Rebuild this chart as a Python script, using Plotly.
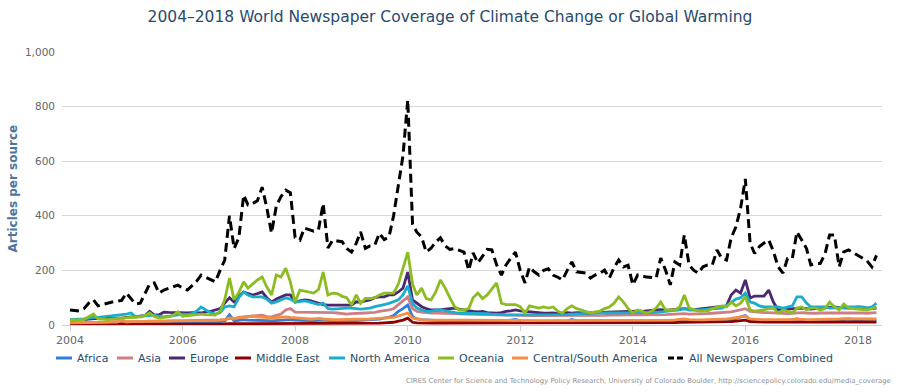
import pandas as pd
import plotly.graph_objects as go

# ---------------- data (monthly, Jan 2004 - May 2018) ----------------
months = pd.date_range("2004-01-01", periods=173, freq="MS")

all_newspapers = [
    55, 53, 51, 60, 80, 92, 70, 75, 80, 84, 87, 90,
    117, 95, 77, 80, 117, 150, 154, 117, 128, 135, 140, 146,
    135, 128, 145, 160, 183, 175, 165, 158, 200, 238, 400, 280,
    320, 476, 440, 445, 455, 505, 430, 337, 436, 470, 494, 485,
    320, 311, 355, 350, 344, 350, 445, 282, 311, 308, 305, 280,
    267, 300, 341, 281, 290, 293, 336, 313, 322, 400, 510, 620,
    825, 370, 340, 322, 267, 281, 304, 319, 290, 277, 280, 275,
    267, 200, 264, 227, 253, 277, 275, 220, 183, 220, 245, 267,
    200, 154, 212, 195, 183, 200, 206, 183, 175, 165, 200, 231,
    195, 192, 190, 172, 183, 190, 201, 172, 210, 238, 213, 219,
    147, 183, 178, 176, 174, 172, 245, 201, 147, 231, 220, 330,
    220, 200, 190, 213, 220, 220, 275, 244, 238, 319, 360, 427,
    535, 300, 262, 287, 300, 311, 270, 213, 190, 244, 244, 341,
    311, 280, 220, 225, 225, 260, 330, 330, 213, 268, 275, 265,
    256, 244, 235, 213, 255,
]

oceania = [
    18, 18, 18, 20, 30, 40, 22, 20, 20, 22, 24, 25,
    26, 28, 28, 30, 35, 44, 31, 25, 28, 30, 35, 48,
    32, 34, 36, 38, 40, 38, 36, 36, 50, 92, 172, 92,
    120, 158, 135, 150, 165, 176, 140, 110, 183, 176, 208, 158,
    84, 128, 125, 120, 117, 130, 194, 110, 117, 115, 105, 100,
    73, 110, 79, 97, 97, 100, 110, 117, 117, 117, 150, 212,
    267, 150, 110, 135, 97, 92, 120, 165, 135, 100, 67, 55,
    55, 60, 100, 117, 97, 110, 130, 154, 80, 75, 75, 75,
    67, 44, 70, 65, 62, 66, 62, 66, 50, 44, 60, 70,
    60, 55, 50, 44, 48, 51, 60, 66, 80, 103, 84, 60,
    44, 55, 50, 44, 50, 62, 84, 55, 55, 55, 66, 110,
    62, 55, 51, 51, 51, 60, 66, 70, 66, 84, 70, 80,
    103, 55, 51, 53, 55, 60, 62, 44, 55, 51, 44, 62,
    66, 55, 62, 62, 55, 60, 84, 66, 55, 77, 62, 60,
    58, 55, 55, 60, 66,
]

europe = [
    18, 18, 18, 20, 22, 24, 24, 24, 25, 25, 25, 25,
    28, 30, 30, 32, 35, 50, 36, 38, 47, 46, 45, 44,
    44, 44, 45, 44, 44, 48, 50, 55, 60, 80, 100, 84,
    105, 121, 115, 110, 115, 121, 100, 84, 95, 103, 110, 110,
    84, 88, 92, 90, 85, 80, 75, 73, 73, 73, 75, 73,
    73, 85, 84, 88, 92, 100, 103, 103, 110, 110, 121, 135,
    194, 92, 80, 67, 60, 55, 55, 55, 58, 60, 62, 58,
    55, 50, 50, 48, 50, 45, 44, 43, 45, 50, 52, 55,
    52, 50, 48, 45, 44, 43, 43, 44, 42, 43, 45, 43,
    45, 44, 43, 44, 45, 46, 47, 48, 49, 50, 50, 50,
    50, 52, 50, 52, 55, 55, 56, 54, 55, 56, 58, 60,
    58, 56, 58, 60, 62, 64, 66, 66, 70, 110, 128, 117,
    165, 99, 106, 106, 106, 128, 84, 55, 55, 58, 60, 62,
    62, 60, 58, 60, 62, 64, 66, 66, 64, 62, 62, 64,
    66, 64, 62, 60, 62,
]

north_america = [
    20, 20, 20, 22, 25, 28, 28, 30, 30, 32, 35, 38,
    40, 44, 30, 32, 34, 36, 36, 32, 30, 32, 35, 38,
    40, 38, 42, 50, 66, 55, 45, 40, 45, 66, 70, 66,
    100, 121, 110, 103, 103, 103, 95, 80, 85, 92, 99, 95,
    84, 86, 88, 85, 80, 75, 80, 60, 58, 60, 62, 62,
    62, 60, 58, 60, 62, 67, 70, 75, 79, 85, 92, 110,
    143, 79, 62, 55, 50, 50, 55, 55, 52, 50, 45, 43,
    43, 43, 42, 44, 43, 42, 40, 38, 38, 37, 37, 38,
    38, 37, 37, 38, 37, 37, 38, 38, 37, 38, 38, 40,
    40, 42, 44, 44, 44, 45, 44, 43, 44, 44, 45, 44,
    44, 44, 43, 44, 45, 46, 48, 50, 52, 55, 55, 60,
    55, 55, 55, 56, 58, 60, 62, 62, 70, 84, 95, 100,
    117, 84, 80, 70, 66, 66, 66, 66, 62, 66, 70, 103,
    103, 80, 66, 66, 66, 66, 62, 62, 62, 64, 66, 66,
    64, 66, 62, 66, 80,
]

asia = [
    8, 8, 8, 9, 9, 10, 10, 10, 10, 11, 11, 12,
    12, 12, 12, 13, 13, 14, 14, 14, 15, 15, 15, 16,
    16, 16, 17, 17, 18, 18, 18, 18, 19, 20, 24, 22,
    28, 30, 32, 34, 36, 36, 31, 30, 35, 40, 55, 60,
    47, 47, 45, 46, 46, 47, 47, 46, 45, 44, 42, 40,
    42, 42, 44, 44, 45, 46, 50, 52, 55, 60, 75, 90,
    103, 60, 50, 47, 45, 44, 44, 44, 43, 42, 42, 41,
    40, 40, 39, 38, 38, 38, 37, 37, 36, 36, 36, 35,
    35, 35, 34, 34, 34, 33, 33, 33, 33, 34, 34, 35,
    35, 35, 35, 34, 34, 35, 35, 36, 36, 37, 37, 37,
    36, 36, 36, 37, 37, 38, 38, 38, 39, 40, 40, 42,
    40, 40, 40, 41, 42, 43, 44, 44, 45, 48, 52, 55,
    60, 50, 48, 46, 45, 45, 44, 42, 42, 42, 43, 45,
    45, 44, 43, 43, 44, 44, 46, 45, 44, 44, 44, 45,
    44, 44, 43, 43, 45,
]

africa = [
    5, 5, 5, 5, 6, 6, 6, 6, 6, 7, 7, 7,
    7, 8, 8, 8, 8, 9, 9, 9, 9, 10, 10, 10,
    10, 10, 10, 11, 11, 11, 11, 12, 12, 14, 37, 15,
    18, 20, 18, 18, 17, 17, 16, 15, 16, 18, 20, 20,
    18, 17, 16, 16, 15, 18, 17, 16, 15, 15, 16, 17,
    16, 16, 17, 18, 20, 20, 22, 25, 28, 35, 50, 60,
    73, 30, 22, 20, 18, 18, 17, 17, 16, 16, 16, 15,
    15, 15, 15, 14, 14, 14, 14, 14, 15, 16, 18, 20,
    15, 14, 14, 13, 13, 13, 13, 13, 13, 13, 14, 20,
    14, 13, 13, 13, 13, 13, 13, 13, 14, 14, 15, 16,
    13, 13, 13, 13, 13, 14, 14, 14, 14, 15, 16, 20,
    15, 14, 14, 14, 14, 15, 16, 16, 17, 20, 24, 30,
    35, 20, 18, 16, 16, 16, 15, 15, 15, 16, 18, 22,
    16, 15, 15, 15, 16, 16, 17, 17, 17, 20, 22, 20,
    18, 17, 17, 17, 18,
]

middle_east = [
    2, 2, 2, 2, 2, 2, 2, 2, 2, 2, 2, 2,
    2, 2, 2, 3, 3, 3, 3, 3, 3, 3, 3, 3,
    3, 3, 3, 3, 3, 3, 4, 4, 4, 4, 5, 5,
    5, 5, 6, 6, 6, 6, 6, 6, 6, 6, 7, 7,
    6, 6, 6, 6, 6, 6, 6, 6, 6, 6, 6, 6,
    6, 6, 6, 6, 7, 7, 7, 8, 8, 10, 14, 18,
    25, 10, 8, 7, 7, 7, 7, 7, 7, 7, 7, 7,
    8, 8, 8, 8, 8, 8, 8, 8, 8, 8, 8, 8,
    8, 8, 8, 8, 8, 8, 8, 8, 8, 8, 8, 8,
    8, 8, 8, 8, 8, 8, 8, 8, 8, 8, 9, 9,
    9, 9, 9, 9, 9, 9, 9, 9, 9, 9, 10, 10,
    10, 10, 10, 10, 10, 10, 10, 10, 11, 12, 14, 16,
    18, 12, 11, 11, 11, 11, 11, 11, 11, 11, 11, 11,
    11, 11, 11, 11, 11, 11, 11, 11, 11, 11, 11, 11,
    11, 11, 11, 11, 11,
]

central_south_america = [
    8, 8, 8, 9, 9, 9, 10, 10, 10, 11, 11, 18,
    11, 12, 12, 12, 13, 13, 13, 14, 14, 14, 15, 15,
    15, 15, 16, 16, 16, 17, 17, 17, 18, 20, 26, 24,
    26, 28, 30, 32, 30, 28, 26, 26, 27, 28, 30, 28,
    26, 24, 22, 22, 22, 24, 22, 20, 20, 20, 20, 20,
    20, 20, 21, 22, 22, 23, 24, 25, 26, 28, 33, 38,
    44, 25, 22, 20, 19, 19, 19, 18, 18, 18, 18, 18,
    18, 18, 17, 17, 17, 17, 17, 17, 17, 17, 18, 18,
    17, 16, 16, 16, 16, 16, 16, 16, 16, 16, 16, 17,
    16, 16, 16, 16, 16, 16, 16, 16, 16, 17, 17, 17,
    17, 17, 17, 17, 17, 17, 18, 18, 18, 19, 20, 22,
    20, 19, 19, 19, 20, 20, 21, 21, 22, 24, 26, 30,
    32, 22, 20, 20, 20, 20, 19, 19, 19, 20, 20, 22,
    20, 20, 20, 20, 21, 21, 22, 22, 22, 23, 23, 22,
    22, 22, 21, 21, 22,
]

series_names = ["Africa", "Asia", "Europe", "Middle East", "North America",
                "Oceania", "Central/South America", "All Newspapers Combined"]
series_values = [africa, asia, europe, middle_east, north_america,
                 oceania, central_south_america, all_newspapers]
series_colors = ["#2f7ed8", "#cf7f83", "#492970", "#910000", "#1aadce",
                 "#8bbc21", "#f28f43", "#000000"]

y_ticks = [0, 200, 400, 600, 800, 1000]

# ---------------- figure ----------------
FONT = "DejaVu Sans, sans-serif"
W, H = 900, 392
L, R, T, B = 62, 18, 52, 67
PW, PH = W - L - R, H - T - B

fig = go.Figure()
for name, vals, col in zip(series_names, series_values, series_colors):
    if name == "All Newspapers Combined":
        line = dict(color=col, width=3, dash="9px,5px")
    else:
        line = dict(color=col, width=2.8)
    fig.add_trace(go.Scatter(x=months, y=vals, name=name, mode="lines",
                             line=line, showlegend=False, hoverinfo="skip"))


def px_x(p):
    return (p - L) / PW


def px_y(p):
    return (H - B - p) / PH


# manual legend (Highcharts style)
legend_x = [56, 117, 169, 235, 329, 438, 512, 668]
legend_y = 358
shapes = []
annotations = []
for name, col, lx in zip(series_names, series_colors, legend_x):
    dash = "6px,3px" if name == "All Newspapers Combined" else "solid"
    shapes.append(dict(type="line", xref="paper", yref="paper",
                       x0=px_x(lx), x1=px_x(lx + 16),
                       y0=px_y(legend_y), y1=px_y(legend_y),
                       line=dict(color=col, width=3, dash=dash)))
    annotations.append(dict(text=name, xref="paper", yref="paper",
                            x=px_x(lx + 19), y=px_y(legend_y),
                            xanchor="left", yanchor="middle", showarrow=False,
                            font=dict(family=FONT, size=11, color="#274b6d")))

annotations.append(dict(text="Articles per source", xref="paper", yref="paper",
                        x=px_x(12), y=0.5, textangle=-90, showarrow=False,
                        xanchor="center", yanchor="middle",
                        font=dict(family=FONT, size=12, color="#4d759e",
                                  weight="bold")))
annotations.append(dict(text="CIRES Center for Science and Technology Policy Research, "
                             "University of Colorado Boulder, "
                             "http://sciencepolicy.colorado.edu/media_coverage",
                        xref="paper", yref="paper", x=px_x(893), y=px_y(381),
                        xanchor="right", yanchor="middle", showarrow=False,
                        font=dict(family=FONT, size=6.9, color="#909090")))

fig.update_layout(
    width=W, height=H,
    margin=dict(l=L, r=R, t=T, b=B),
    paper_bgcolor="white", plot_bgcolor="white",
    hovermode=False,
    title=dict(text="2004\u20132018 World Newspaper Coverage of Climate Change or Global Warming",
               x=0.5, xanchor="center", y=1 - 17 / H, yanchor="middle",
               font=dict(family=FONT, size=15.5, color="#274b6d")),
    shapes=shapes,
    annotations=annotations,
    xaxis=dict(type="date",
               range=["2003-11-10", "2018-06-06"],
               tick0="2004-01-01", dtick="M24", tickformat="%Y",
               showgrid=False, zeroline=False,
               showline=True, linecolor="#C0D0E0", linewidth=1,
               ticks="outside", ticklen=5, tickcolor="#C0D0E0",
               tickfont=dict(family=FONT, size=11, color="#666666")),
    yaxis=dict(range=[0, 1000], tickvals=y_ticks, tickformat=",",
               showgrid=True, gridcolor="#d8d8d8", gridwidth=1,
               zeroline=False, showline=False, ticks="",
               ticklabelstandoff=6,
               tickfont=dict(family=FONT, size=10.5, color="#666666")),
)

fig.write_html("out.html", config={"displayModeBar": False},
               post_script="document.body.style.margin='0';")
